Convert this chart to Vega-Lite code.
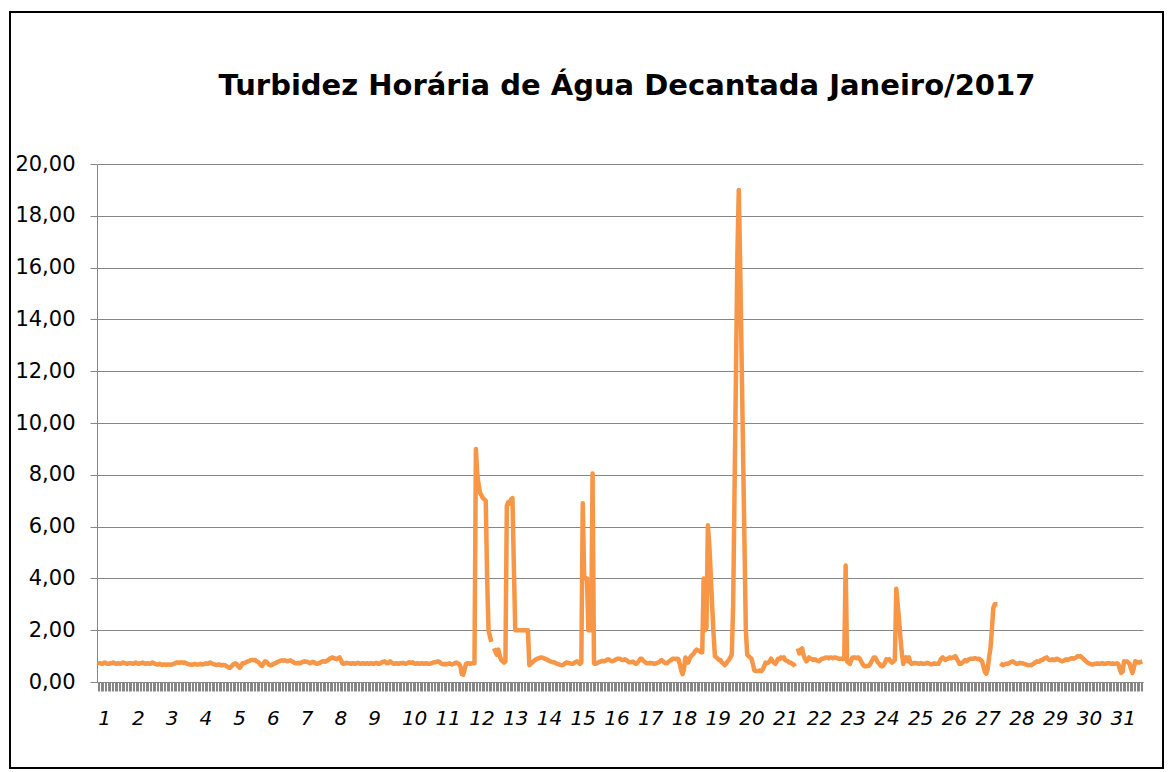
{
"$schema": "https://vega.github.io/schema/vega-lite/v6.json",
"width": 1046,
"height": 518,
"autosize": {"type": "none"},
"padding": {"left": 97, "top": 164, "right": 32, "bottom": 90},
"background": "white",
"title": {"text": "Turbidez Horária de Água Decantada Janeiro/2017", "font": "DejaVu Sans", "fontSize": 29, "fontWeight": "bold", "color": "#000000", "anchor": "middle", "frame": "group", "baseline": "alphabetic", "offset": -113, "dx": 7},
"config": {"view": {"stroke": null}, "font": "DejaVu Sans"},
"data": {"values": [
{"i":0,"v":0.75},{"i":1,"v":0.72},{"i":2,"v":0.72},{"i":3,"v":0.7},{"i":4,"v":0.72},{"i":5,"v":0.75},{"i":6,"v":0.72},{"i":7,"v":0.7},{"i":8,"v":0.7},{"i":9,"v":0.72},{"i":10,"v":0.72},{"i":11,"v":0.75},{"i":12,"v":0.72},{"i":13,"v":0.7},{"i":14,"v":0.72},{"i":15,"v":0.72},{"i":16,"v":0.7},{"i":17,"v":0.72},{"i":18,"v":0.75},{"i":19,"v":0.72},{"i":20,"v":0.72},{"i":21,"v":0.7},{"i":22,"v":0.72},{"i":23,"v":0.72},
{"i":24,"v":0.72},{"i":25,"v":0.7},{"i":26,"v":0.72},{"i":27,"v":0.75},{"i":28,"v":0.72},{"i":29,"v":0.7},{"i":30,"v":0.72},{"i":31,"v":0.72},{"i":32,"v":0.75},{"i":33,"v":0.72},{"i":34,"v":0.7},{"i":35,"v":0.72},{"i":36,"v":0.72},{"i":37,"v":0.7},{"i":38,"v":0.72},{"i":39,"v":0.75},{"i":40,"v":0.72},{"i":41,"v":0.7},{"i":42,"v":0.68},{"i":43,"v":0.68},{"i":44,"v":0.7},{"i":45,"v":0.68},{"i":46,"v":0.66},{"i":47,"v":0.68},
{"i":48,"v":0.68},{"i":49,"v":0.66},{"i":50,"v":0.68},{"i":51,"v":0.68},{"i":52,"v":0.66},{"i":53,"v":0.68},{"i":54,"v":0.7},{"i":55,"v":0.72},{"i":56,"v":0.75},{"i":57,"v":0.75},{"i":58,"v":0.74},{"i":59,"v":0.76},{"i":60,"v":0.75},{"i":61,"v":0.74},{"i":62,"v":0.75},{"i":63,"v":0.72},{"i":64,"v":0.7},{"i":65,"v":0.68},{"i":66,"v":0.68},{"i":67,"v":0.66},{"i":68,"v":0.68},{"i":69,"v":0.7},{"i":70,"v":0.68},{"i":71,"v":0.68},
{"i":72,"v":0.68},{"i":73,"v":0.7},{"i":74,"v":0.68},{"i":75,"v":0.68},{"i":76,"v":0.7},{"i":77,"v":0.72},{"i":78,"v":0.7},{"i":79,"v":0.72},{"i":80,"v":0.75},{"i":81,"v":0.72},{"i":82,"v":0.7},{"i":83,"v":0.68},{"i":84,"v":0.66},{"i":85,"v":0.66},{"i":86,"v":0.68},{"i":87,"v":0.66},{"i":88,"v":0.64},{"i":89,"v":0.66},{"i":90,"v":0.65},{"i":91,"v":0.64},{"i":92,"v":0.6},{"i":93,"v":0.56},{"i":94,"v":0.55},{"i":95,"v":0.6},
{"i":96,"v":0.66},{"i":97,"v":0.7},{"i":98,"v":0.72},{"i":99,"v":0.68},{"i":100,"v":0.6},{"i":101,"v":0.55},{"i":102,"v":0.62},{"i":103,"v":0.72},{"i":104,"v":0.72},{"i":105,"v":0.75},{"i":106,"v":0.78},{"i":107,"v":0.8},{"i":108,"v":0.82},{"i":109,"v":0.85},{"i":110,"v":0.85},{"i":111,"v":0.84},{"i":112,"v":0.85},{"i":113,"v":0.8},{"i":114,"v":0.78},{"i":115,"v":0.72},{"i":116,"v":0.65},{"i":117,"v":0.62},{"i":118,"v":0.72},{"i":119,"v":0.8},
{"i":120,"v":0.78},{"i":121,"v":0.72},{"i":122,"v":0.66},{"i":123,"v":0.64},{"i":124,"v":0.66},{"i":125,"v":0.7},{"i":126,"v":0.72},{"i":127,"v":0.74},{"i":128,"v":0.78},{"i":129,"v":0.8},{"i":130,"v":0.82},{"i":131,"v":0.84},{"i":132,"v":0.82},{"i":133,"v":0.84},{"i":134,"v":0.82},{"i":135,"v":0.8},{"i":136,"v":0.82},{"i":137,"v":0.84},{"i":138,"v":0.8},{"i":139,"v":0.78},{"i":140,"v":0.74},{"i":141,"v":0.72},{"i":142,"v":0.72},{"i":143,"v":0.74},
{"i":144,"v":0.72},{"i":145,"v":0.75},{"i":146,"v":0.78},{"i":147,"v":0.8},{"i":148,"v":0.78},{"i":149,"v":0.78},{"i":150,"v":0.75},{"i":151,"v":0.72},{"i":152,"v":0.75},{"i":153,"v":0.78},{"i":154,"v":0.76},{"i":155,"v":0.72},{"i":156,"v":0.7},{"i":157,"v":0.72},{"i":158,"v":0.74},{"i":159,"v":0.78},{"i":160,"v":0.8},{"i":161,"v":0.8},{"i":162,"v":0.78},{"i":163,"v":0.82},{"i":164,"v":0.85},{"i":165,"v":0.9},{"i":166,"v":0.92},{"i":167,"v":0.95},
{"i":168,"v":0.92},{"i":169,"v":0.9},{"i":170,"v":0.88},{"i":171,"v":0.92},{"i":172,"v":0.95},{"i":173,"v":0.85},{"i":174,"v":0.72},{"i":175,"v":0.7},{"i":176,"v":0.72},{"i":177,"v":0.74},{"i":178,"v":0.72},{"i":179,"v":0.72},{"i":180,"v":0.7},{"i":181,"v":0.72},{"i":182,"v":0.72},{"i":183,"v":0.7},{"i":184,"v":0.72},{"i":185,"v":0.74},{"i":186,"v":0.72},{"i":187,"v":0.7},{"i":188,"v":0.72},{"i":189,"v":0.72},{"i":190,"v":0.7},{"i":191,"v":0.72},
{"i":192,"v":0.72},{"i":193,"v":0.7},{"i":194,"v":0.72},{"i":195,"v":0.72},{"i":196,"v":0.7},{"i":197,"v":0.72},{"i":198,"v":0.74},{"i":199,"v":0.72},{"i":200,"v":0.7},{"i":201,"v":0.72},{"i":202,"v":0.75},{"i":203,"v":0.78},{"i":204,"v":0.8},{"i":205,"v":0.76},{"i":206,"v":0.72},{"i":207,"v":0.74},{"i":208,"v":0.8},{"i":209,"v":0.75},{"i":210,"v":0.72},{"i":211,"v":0.7},{"i":212,"v":0.72},{"i":213,"v":0.72},{"i":214,"v":0.7},{"i":215,"v":0.72},
{"i":216,"v":0.72},{"i":217,"v":0.74},{"i":218,"v":0.72},{"i":219,"v":0.7},{"i":220,"v":0.72},{"i":221,"v":0.75},{"i":222,"v":0.76},{"i":223,"v":0.74},{"i":224,"v":0.76},{"i":225,"v":0.72},{"i":226,"v":0.7},{"i":227,"v":0.72},{"i":228,"v":0.72},{"i":229,"v":0.7},{"i":230,"v":0.72},{"i":231,"v":0.72},{"i":232,"v":0.7},{"i":233,"v":0.72},{"i":234,"v":0.72},{"i":235,"v":0.7},{"i":236,"v":0.7},{"i":237,"v":0.72},{"i":238,"v":0.74},{"i":239,"v":0.76},
{"i":240,"v":0.76},{"i":241,"v":0.78},{"i":242,"v":0.8},{"i":243,"v":0.78},{"i":244,"v":0.72},{"i":245,"v":0.7},{"i":246,"v":0.68},{"i":247,"v":0.7},{"i":248,"v":0.68},{"i":249,"v":0.7},{"i":250,"v":0.72},{"i":251,"v":0.7},{"i":252,"v":0.68},{"i":253,"v":0.7},{"i":254,"v":0.72},{"i":255,"v":0.75},{"i":256,"v":0.72},{"i":257,"v":0.7},{"i":258,"v":0.6},{"i":259,"v":0.3},{"i":260,"v":0.28},{"i":261,"v":0.5},{"i":262,"v":0.7},{"i":263,"v":0.72},
{"i":264,"v":0.72},{"i":265,"v":0.7},{"i":266,"v":0.72},{"i":267,"v":0.72},{"i":268,"v":0.72},{"i":269,"v":9.0},{"i":270,"v":8.0},{"i":271,"v":7.6},{"i":272,"v":7.3},{"i":273,"v":7.2},{"i":274,"v":7.1},{"i":275,"v":7.05},{"i":276,"v":7.0},{"i":277,"v":4.0},{"i":278,"v":2.0},{"i":279,"v":1.75},{"i":280,"v":1.55},{"i":281,"v":null},{"i":282,"v":1.3},{"i":283,"v":1.15},{"i":284,"v":1.05},{"i":285,"v":1.25},{"i":286,"v":1.0},{"i":287,"v":0.85},
{"i":288,"v":0.8},{"i":289,"v":0.75},{"i":290,"v":0.8},{"i":291,"v":6.8},{"i":292,"v":6.95},{"i":293,"v":6.9},{"i":294,"v":7.05},{"i":295,"v":7.1},{"i":296,"v":4.5},{"i":297,"v":2.0},{"i":298,"v":2.0},{"i":299,"v":2.0},{"i":300,"v":2.0},{"i":301,"v":2.0},{"i":302,"v":2.0},{"i":303,"v":2.0},{"i":304,"v":2.0},{"i":305,"v":2.0},{"i":306,"v":2.0},{"i":307,"v":0.65},{"i":308,"v":0.7},{"i":309,"v":0.75},{"i":310,"v":0.8},{"i":311,"v":0.85},
{"i":312,"v":0.88},{"i":313,"v":0.9},{"i":314,"v":0.92},{"i":315,"v":0.95},{"i":316,"v":0.95},{"i":317,"v":0.92},{"i":318,"v":0.9},{"i":319,"v":0.88},{"i":320,"v":0.85},{"i":321,"v":0.82},{"i":322,"v":0.8},{"i":323,"v":0.78},{"i":324,"v":0.76},{"i":325,"v":0.75},{"i":326,"v":0.72},{"i":327,"v":0.7},{"i":328,"v":0.68},{"i":329,"v":0.66},{"i":330,"v":0.65},{"i":331,"v":0.66},{"i":332,"v":0.7},{"i":333,"v":0.74},{"i":334,"v":0.75},{"i":335,"v":0.72},
{"i":336,"v":0.72},{"i":337,"v":0.7},{"i":338,"v":0.7},{"i":339,"v":0.74},{"i":340,"v":0.78},{"i":341,"v":0.8},{"i":342,"v":0.75},{"i":343,"v":0.7},{"i":344,"v":0.75},{"i":345,"v":6.9},{"i":346,"v":4.1},{"i":347,"v":4.0},{"i":348,"v":4.0},{"i":349,"v":2.0},{"i":350,"v":2.0},{"i":351,"v":2.0},{"i":352,"v":8.05},{"i":353,"v":0.72},{"i":354,"v":0.7},{"i":355,"v":0.72},{"i":356,"v":0.75},{"i":357,"v":0.78},{"i":358,"v":0.8},{"i":359,"v":0.82},
{"i":360,"v":0.8},{"i":361,"v":0.82},{"i":362,"v":0.85},{"i":363,"v":0.88},{"i":364,"v":0.85},{"i":365,"v":0.82},{"i":366,"v":0.8},{"i":367,"v":0.82},{"i":368,"v":0.85},{"i":369,"v":0.88},{"i":370,"v":0.9},{"i":371,"v":0.9},{"i":372,"v":0.88},{"i":373,"v":0.85},{"i":374,"v":0.85},{"i":375,"v":0.88},{"i":376,"v":0.85},{"i":377,"v":0.8},{"i":378,"v":0.76},{"i":379,"v":0.76},{"i":380,"v":0.78},{"i":381,"v":0.78},{"i":382,"v":0.72},{"i":383,"v":0.7},
{"i":384,"v":0.75},{"i":385,"v":0.82},{"i":386,"v":0.9},{"i":387,"v":0.9},{"i":388,"v":0.82},{"i":389,"v":0.78},{"i":390,"v":0.74},{"i":391,"v":0.72},{"i":392,"v":0.72},{"i":393,"v":0.74},{"i":394,"v":0.72},{"i":395,"v":0.72},{"i":396,"v":0.7},{"i":397,"v":0.72},{"i":398,"v":0.74},{"i":399,"v":0.76},{"i":400,"v":0.8},{"i":401,"v":0.85},{"i":402,"v":0.8},{"i":403,"v":0.76},{"i":404,"v":0.72},{"i":405,"v":0.72},{"i":406,"v":0.78},{"i":407,"v":0.82},
{"i":408,"v":0.85},{"i":409,"v":0.9},{"i":410,"v":0.9},{"i":411,"v":0.88},{"i":412,"v":0.9},{"i":413,"v":0.88},{"i":414,"v":0.7},{"i":415,"v":0.45},{"i":416,"v":0.3},{"i":417,"v":0.5},{"i":418,"v":0.95},{"i":419,"v":0.85},{"i":420,"v":0.75},{"i":421,"v":0.9},{"i":422,"v":1.0},{"i":423,"v":1.05},{"i":424,"v":1.1},{"i":425,"v":1.2},{"i":426,"v":1.25},{"i":427,"v":1.22},{"i":428,"v":1.2},{"i":429,"v":1.15},{"i":430,"v":1.15},{"i":431,"v":4.0},
{"i":432,"v":2.0},{"i":433,"v":2.1},{"i":434,"v":6.05},{"i":435,"v":5.3},{"i":436,"v":4.2},{"i":437,"v":3.0},{"i":438,"v":1.9},{"i":439,"v":1.0},{"i":440,"v":0.95},{"i":441,"v":0.9},{"i":442,"v":0.85},{"i":443,"v":0.85},{"i":444,"v":0.75},{"i":445,"v":0.72},{"i":446,"v":0.65},{"i":447,"v":0.7},{"i":448,"v":0.8},{"i":449,"v":0.85},{"i":450,"v":0.95},{"i":451,"v":1.05},{"i":452,"v":3.0},{"i":453,"v":7.5},{"i":454,"v":12.0},{"i":455,"v":16.5},
{"i":456,"v":19.0},{"i":457,"v":16.0},{"i":458,"v":12.5},{"i":459,"v":9.0},{"i":460,"v":5.5},{"i":461,"v":2.0},{"i":462,"v":1.05},{"i":463,"v":1.0},{"i":464,"v":0.95},{"i":465,"v":0.9},{"i":466,"v":0.7},{"i":467,"v":0.45},{"i":468,"v":0.42},{"i":469,"v":0.42},{"i":470,"v":0.42},{"i":471,"v":0.45},{"i":472,"v":0.42},{"i":473,"v":0.48},{"i":474,"v":0.6},{"i":475,"v":0.75},{"i":476,"v":0.72},{"i":477,"v":0.75},{"i":478,"v":0.8},{"i":479,"v":0.9},
{"i":480,"v":0.8},{"i":481,"v":0.75},{"i":482,"v":0.7},{"i":483,"v":0.8},{"i":484,"v":0.9},{"i":485,"v":0.88},{"i":486,"v":0.95},{"i":487,"v":0.92},{"i":488,"v":0.95},{"i":489,"v":0.85},{"i":490,"v":0.82},{"i":491,"v":0.8},{"i":492,"v":0.75},{"i":493,"v":0.75},{"i":494,"v":0.7},{"i":495,"v":0.68},{"i":496,"v":0.6},{"i":497,"v":null},{"i":498,"v":1.3},{"i":499,"v":1.1},{"i":500,"v":1.25},{"i":501,"v":1.3},{"i":502,"v":1.05},{"i":503,"v":0.9},
{"i":504,"v":0.8},{"i":505,"v":0.85},{"i":506,"v":0.95},{"i":507,"v":0.9},{"i":508,"v":0.88},{"i":509,"v":0.85},{"i":510,"v":0.88},{"i":511,"v":0.85},{"i":512,"v":0.82},{"i":513,"v":0.8},{"i":514,"v":0.85},{"i":515,"v":0.9},{"i":516,"v":0.9},{"i":517,"v":0.92},{"i":518,"v":0.95},{"i":519,"v":0.95},{"i":520,"v":0.92},{"i":521,"v":0.95},{"i":522,"v":0.95},{"i":523,"v":0.92},{"i":524,"v":0.95},{"i":525,"v":0.95},{"i":526,"v":0.92},{"i":527,"v":0.9},
{"i":528,"v":0.9},{"i":529,"v":0.9},{"i":530,"v":0.88},{"i":531,"v":0.9},{"i":532,"v":4.5},{"i":533,"v":0.8},{"i":534,"v":0.75},{"i":535,"v":0.7},{"i":536,"v":0.85},{"i":537,"v":0.95},{"i":538,"v":0.95},{"i":539,"v":0.95},{"i":540,"v":0.92},{"i":541,"v":0.95},{"i":542,"v":0.9},{"i":543,"v":0.8},{"i":544,"v":0.7},{"i":545,"v":0.62},{"i":546,"v":0.6},{"i":547,"v":0.62},{"i":548,"v":0.62},{"i":549,"v":0.65},{"i":550,"v":0.75},{"i":551,"v":0.85},
{"i":552,"v":0.95},{"i":553,"v":0.95},{"i":554,"v":0.85},{"i":555,"v":0.75},{"i":556,"v":0.7},{"i":557,"v":0.62},{"i":558,"v":0.6},{"i":559,"v":0.65},{"i":560,"v":0.75},{"i":561,"v":0.88},{"i":562,"v":0.85},{"i":563,"v":0.88},{"i":564,"v":0.8},{"i":565,"v":0.75},{"i":566,"v":0.8},{"i":567,"v":0.85},{"i":568,"v":3.6},{"i":569,"v":3.0},{"i":570,"v":2.4},{"i":571,"v":1.7},{"i":572,"v":1.1},{"i":573,"v":0.7},{"i":574,"v":0.85},{"i":575,"v":0.95},
{"i":576,"v":0.8},{"i":577,"v":0.95},{"i":578,"v":0.75},{"i":579,"v":0.7},{"i":580,"v":0.72},{"i":581,"v":0.74},{"i":582,"v":0.72},{"i":583,"v":0.72},{"i":584,"v":0.7},{"i":585,"v":0.72},{"i":586,"v":0.72},{"i":587,"v":0.7},{"i":588,"v":0.7},{"i":589,"v":0.72},{"i":590,"v":0.74},{"i":591,"v":0.72},{"i":592,"v":0.7},{"i":593,"v":0.68},{"i":594,"v":0.7},{"i":595,"v":0.72},{"i":596,"v":0.7},{"i":597,"v":0.7},{"i":598,"v":0.7},{"i":599,"v":0.8},
{"i":600,"v":0.9},{"i":601,"v":0.95},{"i":602,"v":0.9},{"i":603,"v":0.85},{"i":604,"v":0.9},{"i":605,"v":0.9},{"i":606,"v":0.95},{"i":607,"v":0.92},{"i":608,"v":0.95},{"i":609,"v":0.95},{"i":610,"v":1.0},{"i":611,"v":0.9},{"i":612,"v":0.8},{"i":613,"v":0.7},{"i":614,"v":0.7},{"i":615,"v":0.75},{"i":616,"v":0.8},{"i":617,"v":0.85},{"i":618,"v":0.8},{"i":619,"v":0.85},{"i":620,"v":0.88},{"i":621,"v":0.9},{"i":622,"v":0.9},{"i":623,"v":0.9},
{"i":624,"v":0.92},{"i":625,"v":0.9},{"i":626,"v":0.88},{"i":627,"v":0.9},{"i":628,"v":0.85},{"i":629,"v":0.8},{"i":630,"v":0.6},{"i":631,"v":0.4},{"i":632,"v":0.32},{"i":633,"v":0.5},{"i":634,"v":0.95},{"i":635,"v":1.3},{"i":636,"v":2.0},{"i":637,"v":2.85},{"i":638,"v":3.0},{"i":639,"v":3.0},{"i":640,"v":3.0},{"i":641,"v":null},{"i":642,"v":0.72},{"i":643,"v":0.68},{"i":644,"v":0.65},{"i":645,"v":0.68},{"i":646,"v":0.7},{"i":647,"v":0.7},
{"i":648,"v":0.72},{"i":649,"v":0.75},{"i":650,"v":0.78},{"i":651,"v":0.8},{"i":652,"v":0.75},{"i":653,"v":0.72},{"i":654,"v":0.7},{"i":655,"v":0.72},{"i":656,"v":0.74},{"i":657,"v":0.72},{"i":658,"v":0.72},{"i":659,"v":0.7},{"i":660,"v":0.68},{"i":661,"v":0.66},{"i":662,"v":0.65},{"i":663,"v":0.66},{"i":664,"v":0.65},{"i":665,"v":0.68},{"i":666,"v":0.72},{"i":667,"v":0.76},{"i":668,"v":0.8},{"i":669,"v":0.78},{"i":670,"v":0.8},{"i":671,"v":0.85},
{"i":672,"v":0.85},{"i":673,"v":0.9},{"i":674,"v":0.92},{"i":675,"v":0.95},{"i":676,"v":0.88},{"i":677,"v":0.85},{"i":678,"v":0.85},{"i":679,"v":0.88},{"i":680,"v":0.85},{"i":681,"v":0.85},{"i":682,"v":0.9},{"i":683,"v":0.88},{"i":684,"v":0.85},{"i":685,"v":0.82},{"i":686,"v":0.8},{"i":687,"v":0.82},{"i":688,"v":0.85},{"i":689,"v":0.88},{"i":690,"v":0.85},{"i":691,"v":0.88},{"i":692,"v":0.9},{"i":693,"v":0.92},{"i":694,"v":0.9},{"i":695,"v":0.92},
{"i":696,"v":0.95},{"i":697,"v":1.0},{"i":698,"v":0.98},{"i":699,"v":1.0},{"i":700,"v":0.95},{"i":701,"v":0.9},{"i":702,"v":0.85},{"i":703,"v":0.8},{"i":704,"v":0.75},{"i":705,"v":0.72},{"i":706,"v":0.7},{"i":707,"v":0.68},{"i":708,"v":0.68},{"i":709,"v":0.7},{"i":710,"v":0.7},{"i":711,"v":0.72},{"i":712,"v":0.7},{"i":713,"v":0.7},{"i":714,"v":0.72},{"i":715,"v":0.72},{"i":716,"v":0.7},{"i":717,"v":0.7},{"i":718,"v":0.72},{"i":719,"v":0.72},
{"i":720,"v":0.72},{"i":721,"v":0.7},{"i":722,"v":0.72},{"i":723,"v":0.7},{"i":724,"v":0.7},{"i":725,"v":0.72},{"i":726,"v":0.68},{"i":727,"v":0.5},{"i":728,"v":0.35},{"i":729,"v":0.4},{"i":730,"v":0.8},{"i":731,"v":0.78},{"i":732,"v":0.8},{"i":733,"v":0.75},{"i":734,"v":0.7},{"i":735,"v":0.5},{"i":736,"v":0.35},{"i":737,"v":0.55},{"i":738,"v":0.8},{"i":739,"v":0.78},{"i":740,"v":0.75},{"i":741,"v":0.75},{"i":742,"v":0.78},{"i":743,"v":0.8}
]},
"layer": [
{
"mark": {"type": "line", "color": "#F79646", "strokeWidth": 4.5, "strokeJoin": "round", "strokeCap": "butt", "invalid": "break-paths-show-domains"},
"encoding": {
"x": {"field": "i", "type": "quantitative", "scale": {"domain": [-0.5, 743.5], "nice": false, "zero": false},
"axis": {"title": null, "tickCount": 744, "grid": false, "domainColor": "#868686", "tickColor": "#868686", "tickSize": 9, "tickWidth": 1, "labelExpr": "datum.value % 24 == 0 ? '' + (datum.value / 24 + 1) : ''", "labelAlign": "left", "labelBaseline": "top", "labelPadding": 17, "labelFont": "DejaVu Sans", "labelFontSize": 20, "labelFontStyle": "italic", "labelColor": "#000000", "labelOverlap": false, "labelFlush": false, "labelBound": false}},
"y": {"field": "v", "type": "quantitative", "scale": {"domain": [0, 20], "nice": false, "zero": true},
"axis": {"title": null, "values": [0, 2, 4, 6, 8, 10, 12, 14, 16, 18, 20], "grid": true, "gridColor": "#868686", "gridWidth": 1, "domainColor": "#868686", "tickColor": "#868686", "tickSize": 7, "labelExpr": "replace(format(datum.value, '.2f'), '.', ',')", "labelFont": "DejaVu Sans", "labelFontSize": 21, "labelColor": "#000000", "labelPadding": 15}}
}
},
{
"data": {"values": [{"frame": "chart"}]},
"mark": {"type": "rect", "filled": false, "stroke": "#000000", "strokeWidth": 2, "clip": false},
"encoding": {
"x": {"datum": -62.38, "type": "quantitative", "scale": {"domain": [-0.5, 743.5], "nice": false, "zero": false},
"axis": {"title": null, "tickCount": 744, "grid": false, "domainColor": "#868686", "tickColor": "#868686", "tickSize": 9, "tickWidth": 1, "labelExpr": "datum.value % 24 == 0 ? '' + (datum.value / 24 + 1) : ''", "labelAlign": "left", "labelBaseline": "top", "labelPadding": 17, "labelFont": "DejaVu Sans", "labelFontSize": 20, "labelFontStyle": "italic", "labelColor": "#000000", "labelOverlap": false, "labelFlush": false, "labelBound": false}},
"x2": {"datum": 757.72},
"y": {"datum": 25.87, "type": "quantitative", "scale": {"domain": [0, 20], "nice": false, "zero": true},
"axis": {"title": null, "values": [0, 2, 4, 6, 8, 10, 12, 14, 16, 18, 20], "grid": true, "gridColor": "#868686", "gridWidth": 1, "domainColor": "#868686", "tickColor": "#868686", "tickSize": 7, "labelExpr": "replace(format(datum.value, '.2f'), '.', ',')", "labelFont": "DejaVu Sans", "labelFontSize": 21, "labelColor": "#000000", "labelPadding": 15}},
"y2": {"datum": -3.32}
}
}
]
}
